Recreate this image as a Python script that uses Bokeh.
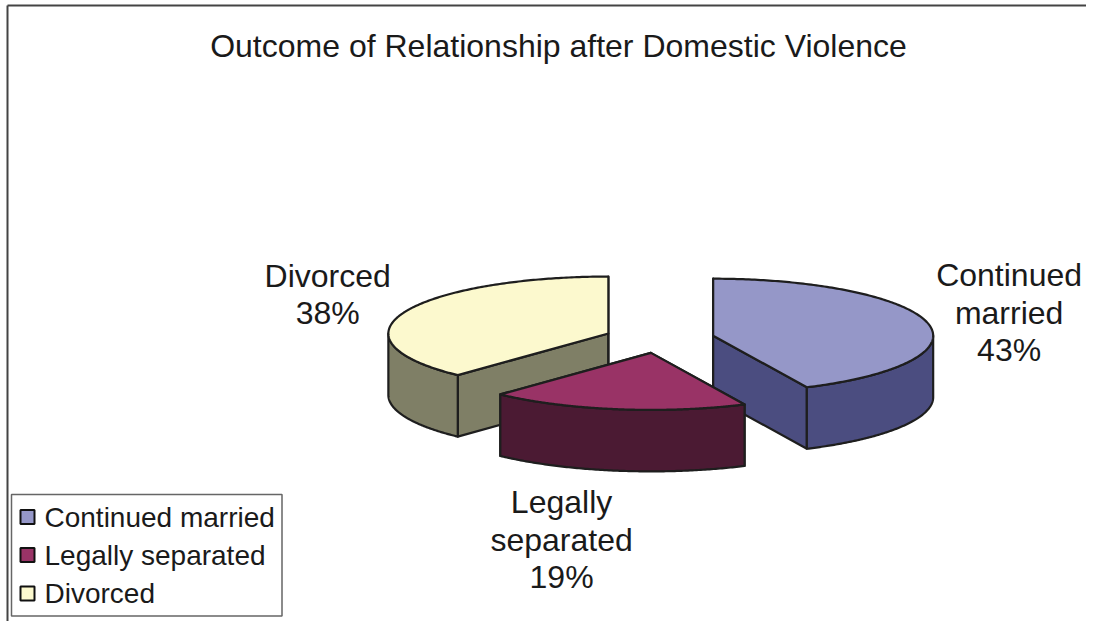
import numpy as np
from bokeh.plotting import figure
from bokeh.models import Range1d
from bokeh.embed import file_html
from bokeh.resources import INLINE
from bokeh.core.properties import value

# ---------------- data ----------------
title_text = "Outcome of Relationship after Domestic Violence"
categories = ["Continued married", "Legally separated", "Divorced"]
percents = [43, 19, 38]
label_texts = [["Continued", "married", "43%"],
               ["Legally", "separated", "19%"],
               ["Divorced", "38%"]]
top_colors = ["#9597C8", "#993366", "#FCF9CE"]
side_colors = ["#4B4D80", "#4B1A33", "#7F7F66"]

# ---------------- layout ----------------
W, H = 1086, 621
FONT = "Liberation Sans"
cx, cy = 659.0, 338.3      # pie centre
rx, ry = 220.0, 57.0       # ellipse radii
depth = 61.5               # thickness
explode = 0.25
OUT = "#1e1e1e"
TXT = "#1a1a1a"

p = figure(width=W, height=H, x_range=Range1d(0, W), y_range=Range1d(H, 0),
           output_backend="svg", toolbar_location=None, min_border=0)
p.axis.visible = False
p.grid.visible = False
p.outline_line_color = None
p.background_fill_color = "white"
p.border_fill_color = "white"

# chart frame (top & left visible)
p.segment(x0=[7, 7], y0=[5, 5], x1=[W, 7], y1=[5, H],
          line_color="#444444", line_width=2)

# title
p.text(x=[558], y=[45], text=[title_text], text_font=value(FONT),
       text_font_size="32px", text_align="center", text_baseline="middle",
       text_color=TXT)

# ---------------- 3D pie ----------------
def pt(scx, scy, a, dz=0.0):
    r = np.radians(a)
    return scx + rx * np.cos(r), scy - ry * np.sin(r) + dz

slices = []
start = 90.0
for i, pct in enumerate(percents):
    sweep = pct / 100.0 * 360.0
    a0, a1 = start, start - sweep
    mid = (a0 + a1) / 2.0
    m = np.radians(mid)
    scx = cx + explode * rx * np.cos(m)
    scy = cy - explode * ry * np.sin(m)
    slices.append(dict(i=i, a0=a0, a1=a1, mid=mid, scx=scx, scy=scy))
    start = a1

for s in sorted(slices, key=lambda d: d["scy"]):
    i, a0, a1, scx, scy = s["i"], s["a0"], s["a1"], s["scx"], s["scy"]
    xs, ys = [], []
    # radial cut faces
    for a in (a0, a1):
        ex, ey = pt(scx, scy, a)
        xs.append([scx, ex, ex, scx])
        ys.append([scy, ey, ey + depth, scy + depth])
    # outer curved side (front-facing part only)
    for k in (-1, 0, 1):
        lo = max(a1, -180 + 360 * k)
        hi = min(a0, 0 + 360 * k)
        if hi - lo > 0.01:
            ang = np.linspace(hi, lo, 120)
            tx, ty = pt(scx, scy, ang)
            xs.append(list(tx) + list(tx[::-1]))
            ys.append(list(ty) + list((ty + depth)[::-1]))
    p.patches(xs=xs, ys=ys, fill_color=side_colors[i], line_color=OUT,
              line_width=2.2, line_join="round")
    # top face
    ang = np.linspace(a0, a1, 200)
    tx, ty = pt(scx, scy, ang)
    p.patch(x=[scx] + list(tx), y=[scy] + list(ty), fill_color=top_colors[i],
            line_color=OUT, line_width=2.2, line_join="round")

# ---------------- data labels ----------------
label_size = 32
line_gap = 37.5
nudges = [(-2.5, 0), (-41.5, 20.5), (3.7, 0)]
for s in slices:
    i, mid = s["i"], np.radians(s["mid"])
    lx = s["scx"] + 1.39 * rx * np.cos(mid) + nudges[i][0]
    ly = (s["scy"] - 1.86 * ry * np.sin(mid)
          + (depth if np.sin(mid) < 0 else 0) + nudges[i][1])
    lines = label_texts[i]
    n = len(lines)
    yy = [ly + (j - (n - 1) / 2.0) * line_gap for j in range(n)]
    p.text(x=[lx] * n, y=yy, text=lines, text_font=value(FONT),
           text_font_size=f"{label_size}px", text_align="center",
           text_baseline="middle", text_color=TXT)

# ---------------- legend ----------------
p.quad(left=[11], right=[281.5], top=[494], bottom=[615.5], fill_color="white",
       line_color="#666666", line_width=1.5)
leg_y = [516.5, 554.5, 593]
p.rect(x=[27] * 3, y=leg_y, width=14, height=14, fill_color=top_colors,
       line_color="#111111", line_width=2)
p.text(x=[44] * 3, y=leg_y, text=categories, text_font=value(FONT),
       text_font_size="28px", text_align="left", text_baseline="middle",
       text_color=TXT)

open("out.html", "w").write(file_html(p, INLINE))
